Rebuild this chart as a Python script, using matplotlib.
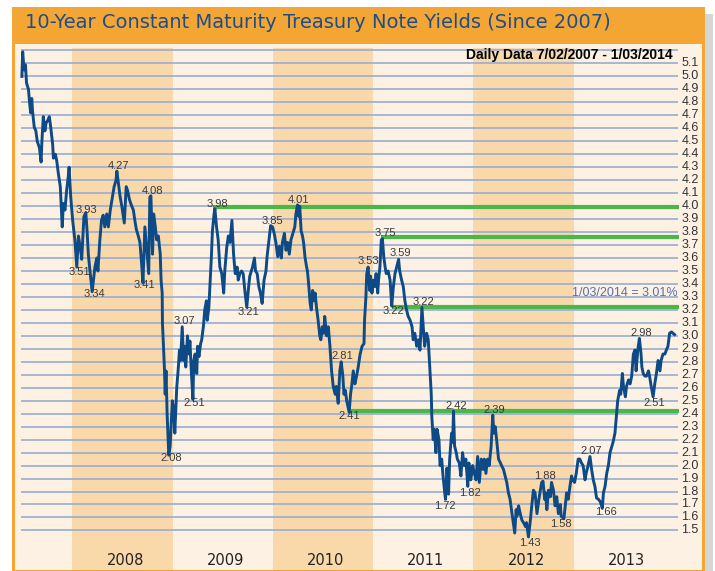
import matplotlib
matplotlib.use('Agg')
import matplotlib.pyplot as plt
from matplotlib.patches import Rectangle
import pandas as pd

# ---- data (10y CMT yield, %) ----
d2007 = ['2007-07-02', '2007-07-05', '2007-07-10', '2007-07-15', '2007-07-19', '2007-07-26',
         '2007-07-30', '2007-08-03', '2007-08-07', '2007-08-10', '2007-08-16', '2007-08-22',
         '2007-08-27', '2007-09-04', '2007-09-10', '2007-09-13', '2007-09-18', '2007-09-24',
         '2007-09-28', '2007-10-04', '2007-10-10', '2007-10-15', '2007-10-22', '2007-10-25',
         '2007-11-01', '2007-11-06', '2007-11-12', '2007-11-19', '2007-11-26', '2007-11-30',
         '2007-12-06', '2007-12-12', '2007-12-18', '2007-12-21', '2007-12-27']
y2007 = [5.00, 5.19, 5.05, 5.09, 4.95, 4.90, 4.80, 4.72, 4.83, 4.73, 4.61, 4.58,
         4.50, 4.45, 4.34, 4.50, 4.69, 4.58, 4.64, 4.66, 4.69, 4.61, 4.48, 4.37,
         4.40, 4.35, 4.25, 4.15, 3.84, 4.02, 3.97, 4.12, 4.23, 4.30, 4.07]

d2008 = ['2008-01-03', '2008-01-11', '2008-01-18', '2008-01-24', '2008-01-30', '2008-02-05',
         '2008-02-13', '2008-02-20', '2008-02-25', '2008-02-29', '2008-03-06', '2008-03-14',
         '2008-03-24', '2008-03-31', '2008-04-04', '2008-04-11', '2008-04-17', '2008-04-23',
         '2008-04-29', '2008-05-06', '2008-05-12', '2008-05-19', '2008-05-27', '2008-06-02',
         '2008-06-09', '2008-06-12', '2008-06-18', '2008-06-24', '2008-06-30', '2008-07-09',
         '2008-07-16', '2008-07-21', '2008-07-28', '2008-08-05', '2008-08-11', '2008-08-18',
         '2008-08-22', '2008-08-29', '2008-09-04', '2008-09-10', '2008-09-15', '2008-09-22',
         '2008-09-29', '2008-10-06', '2008-10-10', '2008-10-14', '2008-10-20', '2008-10-24',
         '2008-10-30', '2008-11-04', '2008-11-10', '2008-11-17', '2008-11-20', '2008-11-24',
         '2008-11-25', '2008-11-28', '2008-12-02', '2008-12-05', '2008-12-08', '2008-12-12',
         '2008-12-16', '2008-12-18', '2008-12-23', '2008-12-31']
y2008 = [3.89, 3.74, 3.53, 3.77, 3.69, 3.59, 3.92, 3.95, 3.79, 3.63, 3.50, 3.34,
         3.53, 3.60, 3.50, 3.74, 3.89, 3.93, 3.84, 3.94, 3.84, 3.97, 4.07, 4.15,
         4.20, 4.27, 4.17, 4.07, 4.00, 3.87, 4.15, 4.12, 4.05, 4.00, 3.97, 3.87,
         3.82, 3.77, 3.72, 3.56, 3.41, 3.84, 3.66, 3.48, 4.07, 4.08, 3.63, 3.94,
         3.84, 3.74, 3.77, 3.63, 3.43, 3.33, 3.10, 2.95, 2.76, 2.55, 2.73, 2.40,
         2.20, 2.08, 2.15, 2.50]

d2009 = ['2009-01-05', '2009-01-09', '2009-01-16', '2009-01-22', '2009-01-26', '2009-01-30',
         '2009-02-05', '2009-02-10', '2009-02-13', '2009-02-18', '2009-02-24', '2009-03-02',
         '2009-03-05', '2009-03-10', '2009-03-16', '2009-03-19', '2009-03-24', '2009-03-30',
         '2009-04-02', '2009-04-07', '2009-04-13', '2009-04-17', '2009-04-23', '2009-04-28',
         '2009-05-04', '2009-05-07', '2009-05-13', '2009-05-18', '2009-05-22', '2009-05-26',
         '2009-06-01', '2009-06-04', '2009-06-10', '2009-06-16', '2009-06-22', '2009-06-29',
         '2009-07-06', '2009-07-10', '2009-07-17', '2009-07-23', '2009-07-29', '2009-08-05',
         '2009-08-11', '2009-08-17', '2009-08-24', '2009-08-28', '2009-09-03', '2009-09-09',
         '2009-09-15', '2009-09-21', '2009-09-28', '2009-10-05', '2009-10-09', '2009-10-19',
         '2009-10-26', '2009-10-30', '2009-11-05', '2009-11-11', '2009-11-17', '2009-11-23',
         '2009-11-30', '2009-12-07', '2009-12-11', '2009-12-18', '2009-12-24', '2009-12-31']
y2009 = [2.43, 2.25, 2.60, 2.76, 2.89, 2.81, 3.07, 2.81, 2.92, 2.76, 3.00, 2.86,
         2.96, 2.73, 2.51, 2.81, 2.86, 2.71, 2.92, 2.84, 2.94, 2.97, 3.07, 3.20,
         3.27, 3.12, 3.22, 3.43, 3.60, 3.81, 3.94, 3.98, 3.84, 3.74, 3.53, 3.48,
         3.33, 3.50, 3.68, 3.77, 3.72, 3.89, 3.63, 3.48, 3.53, 3.43, 3.48, 3.50,
         3.48, 3.35, 3.22, 3.38, 3.46, 3.53, 3.60, 3.50, 3.48, 3.38, 3.33, 3.25,
         3.43, 3.50, 3.61, 3.74, 3.85, 3.84]

d2010 = ['2010-01-06', '2010-01-12', '2010-01-19', '2010-01-25', '2010-02-01', '2010-02-05',
         '2010-02-12', '2010-02-18', '2010-02-24', '2010-03-02', '2010-03-08', '2010-03-15',
         '2010-03-22', '2010-03-26', '2010-04-01', '2010-04-06', '2010-04-09', '2010-04-14',
         '2010-04-19', '2010-04-23', '2010-04-28', '2010-05-04', '2010-05-07', '2010-05-11',
         '2010-05-17', '2010-05-21', '2010-05-26', '2010-06-01', '2010-06-04', '2010-06-09',
         '2010-06-15', '2010-06-21', '2010-06-25', '2010-06-30', '2010-07-06', '2010-07-09',
         '2010-07-16', '2010-07-22', '2010-07-28', '2010-08-03', '2010-08-09', '2010-08-16',
         '2010-08-20', '2010-08-27', '2010-09-02', '2010-09-07', '2010-09-13', '2010-09-17',
         '2010-09-22', '2010-09-27', '2010-10-06', '2010-10-11', '2010-10-15', '2010-10-21',
         '2010-10-27', '2010-11-02', '2010-11-08', '2010-11-15', '2010-11-22', '2010-11-29',
         '2010-12-01', '2010-12-06', '2010-12-09', '2010-12-14', '2010-12-20', '2010-12-23',
         '2010-12-28']
y2010 = [3.79, 3.72, 3.61, 3.69, 3.60, 3.72, 3.79, 3.66, 3.72, 3.63, 3.74, 3.79,
         3.84, 3.94, 4.01, 3.92, 4.00, 3.81, 3.77, 3.72, 3.61, 3.53, 3.50, 3.41,
         3.25, 3.20, 3.35, 3.27, 3.33, 3.22, 3.12, 3.00, 2.97, 3.07, 3.02, 3.15,
         3.00, 3.07, 2.92, 2.73, 2.61, 2.55, 2.61, 2.48, 2.73, 2.80, 2.69, 2.55,
         2.58, 2.50, 2.41, 2.55, 2.61, 2.73, 2.63, 2.69, 2.76, 2.86, 2.92, 2.94,
         3.12, 3.30, 3.48, 3.53, 3.35, 3.46, 3.33]

d2011 = ['2011-01-03', '2011-01-07', '2011-01-12', '2011-01-18', '2011-01-21', '2011-01-26',
         '2011-01-31', '2011-02-04', '2011-02-09', '2011-02-14', '2011-02-18', '2011-02-25',
         '2011-03-04', '2011-03-10', '2011-03-16', '2011-03-22', '2011-03-28', '2011-04-04',
         '2011-04-08', '2011-04-15', '2011-04-21', '2011-04-27', '2011-05-03', '2011-05-09',
         '2011-05-16', '2011-05-23', '2011-05-27', '2011-06-02', '2011-06-09', '2011-06-15',
         '2011-06-21', '2011-06-28', '2011-07-05', '2011-07-08', '2011-07-15', '2011-07-21',
         '2011-07-25', '2011-08-01', '2011-08-03', '2011-08-08', '2011-08-12', '2011-08-18',
         '2011-08-22', '2011-08-29', '2011-09-02', '2011-09-08', '2011-09-12', '2011-09-19',
         '2011-09-22', '2011-09-27', '2011-09-30', '2011-10-03', '2011-10-07', '2011-10-12',
         '2011-10-14', '2011-10-18', '2011-10-21', '2011-10-25', '2011-10-31', '2011-11-04',
         '2011-11-11', '2011-11-17', '2011-11-23', '2011-11-29', '2011-12-05', '2011-12-12',
         '2011-12-16', '2011-12-23', '2011-12-30']
y2011 = [3.43, 3.38, 3.48, 3.33, 3.43, 3.53, 3.74, 3.75, 3.61, 3.53, 3.48, 3.50,
         3.43, 3.23, 3.38, 3.48, 3.53, 3.59, 3.50, 3.43, 3.38, 3.27, 3.20, 3.15,
         3.12, 3.07, 2.97, 3.02, 2.92, 2.97, 2.89, 3.22, 3.00, 2.92, 3.02, 2.97,
         2.82, 2.55, 2.38, 2.20, 2.28, 2.10, 2.28, 2.20, 2.00, 2.05, 1.94, 1.79,
         1.74, 1.98, 1.90, 1.78, 2.05, 2.20, 2.25, 2.18, 2.42, 2.15, 2.10, 2.05,
         2.02, 1.92, 2.10, 2.00, 2.05, 1.84, 2.02, 1.89, 2.00]

d2012 = ['2012-01-05', '2012-01-11', '2012-01-17', '2012-01-23', '2012-01-30', '2012-02-06',
         '2012-02-10', '2012-02-16', '2012-02-22', '2012-02-28', '2012-03-06', '2012-03-12',
         '2012-03-16', '2012-03-21', '2012-03-26', '2012-04-02', '2012-04-09', '2012-04-13',
         '2012-04-20', '2012-04-26', '2012-05-02', '2012-05-08', '2012-05-14', '2012-05-21',
         '2012-05-31', '2012-06-05', '2012-06-08', '2012-06-14', '2012-06-20', '2012-06-26',
         '2012-07-02', '2012-07-09', '2012-07-13', '2012-07-20', '2012-07-26', '2012-08-01',
         '2012-08-07', '2012-08-13', '2012-08-20', '2012-08-27', '2012-08-31', '2012-09-06',
         '2012-09-11', '2012-09-17', '2012-09-20', '2012-09-25', '2012-10-01', '2012-10-08',
         '2012-10-12', '2012-10-19', '2012-10-25', '2012-10-31', '2012-11-06', '2012-11-13',
         '2012-11-16', '2012-11-26', '2012-12-06', '2012-12-12', '2012-12-18', '2012-12-24',
         '2012-12-28']
y2012 = [1.94, 1.89, 2.07, 1.87, 2.05, 1.97, 2.05, 1.94, 2.05, 2.00, 2.15, 2.39,
         2.25, 2.30, 2.20, 2.05, 2.02, 2.00, 1.97, 1.92, 1.87, 1.79, 1.74, 1.63,
         1.48, 1.66, 1.61, 1.69, 1.63, 1.58, 1.56, 1.53, 1.56, 1.45, 1.56, 1.69,
         1.81, 1.79, 1.63, 1.74, 1.79, 1.87, 1.88, 1.74, 1.79, 1.66, 1.81, 1.76,
         1.87, 1.81, 1.69, 1.76, 1.63, 1.70, 1.61, 1.59, 1.79, 1.74, 1.84, 1.92,
         1.89]

d2013 = ['2013-01-04', '2013-01-10', '2013-01-17', '2013-01-23', '2013-01-29', '2013-02-04',
         '2013-02-11', '2013-02-15', '2013-02-22', '2013-03-01', '2013-03-07', '2013-03-13',
         '2013-03-19', '2013-03-25', '2013-04-01', '2013-04-08', '2013-04-15', '2013-04-19',
         '2013-04-25', '2013-05-01', '2013-05-07', '2013-05-13', '2013-05-20', '2013-05-24',
         '2013-05-31', '2013-06-06', '2013-06-10', '2013-06-17', '2013-06-21', '2013-06-27',
         '2013-07-01', '2013-07-08', '2013-07-12', '2013-07-19', '2013-07-25', '2013-07-31',
         '2013-08-06', '2013-08-12', '2013-08-16', '2013-08-22', '2013-08-28', '2013-09-03',
         '2013-09-06', '2013-09-11', '2013-09-17', '2013-09-23', '2013-09-30', '2013-10-04',
         '2013-10-10', '2013-10-17', '2013-10-23', '2013-10-29', '2013-11-04', '2013-11-11',
         '2013-11-15', '2013-11-22', '2013-11-29', '2013-12-04', '2013-12-10', '2013-12-16',
         '2013-12-23', '2014-01-03']
y2013 = [1.87, 1.94, 2.05, 2.05, 2.02, 2.00, 1.89, 1.94, 2.00, 2.07, 1.97, 1.89,
         1.84, 1.75, 1.74, 1.72, 1.67, 1.79, 1.84, 1.94, 2.00, 2.10, 2.15, 2.18,
         2.25, 2.40, 2.50, 2.58, 2.55, 2.71, 2.61, 2.53, 2.61, 2.66, 2.63, 2.69,
         2.86, 2.89, 2.73, 2.89, 2.98, 2.86, 2.76, 2.71, 2.69, 2.69, 2.73, 2.69,
         2.61, 2.53, 2.63, 2.71, 2.81, 2.73, 2.81, 2.86, 2.86, 2.89, 2.92, 3.02,
         3.03, 3.01]

dates = pd.to_datetime(d2007 + d2008 + d2009 + d2010 + d2011 + d2012 + d2013)
yields = y2007 + y2008 + y2009 + y2010 + y2011 + y2012 + y2013

band_years = [2008, 2010, 2012]
year_labels = [2008, 2009, 2010, 2011, 2012, 2013]
levels = [round(1.5 + 0.1 * i, 1) for i in range(38)]   # 1.5 .. 5.2
tick_levels = levels[:-1]

# support / resistance lines: (level, start date)
green_levels = [3.99, 3.76, 3.22, 2.42]
green_starts = ['2009-05-28', '2011-01-31', '2011-03-10', '2010-10-09']

# peak / trough labels: text, date, value where the label sits
ann_text = ['3.93', '4.27', '4.08', '3.98', '3.51', '3.34', '3.41', '3.07', '2.51', '2.08',
            '3.85', '4.01', '3.75', '3.59', '3.53', '3.21', '3.22', '2.81', '2.41',
            '3.22', '2.42', '2.39', '1.72', '1.82', '1.88', '1.43', '1.58', '2.07',
            '1.66', '2.98', '2.51']
ann_date = ['2008-02-21', '2008-06-17', '2008-10-18', '2009-06-12', '2008-01-26', '2008-03-21',
            '2008-09-19', '2009-02-12', '2009-03-20', '2008-12-26', '2009-12-30', '2010-04-04',
            '2011-02-14', '2011-04-11', '2010-12-15', '2009-10-04', '2011-03-17', '2010-09-11',
            '2010-10-07', '2011-07-05', '2011-10-30', '2012-03-18', '2011-09-19', '2011-12-21',
            '2012-09-18', '2012-07-24', '2012-11-15', '2013-03-07', '2013-04-30', '2013-09-02',
            '2013-10-20']
ann_val = [3.97, 4.31, 4.12, 4.02, 3.49, 3.32, 3.39, 3.115, 2.485, 2.056,
           3.886, 4.048, 3.79, 3.637, 3.577, 3.186, 3.194, 2.847, 2.385,
           3.259, 2.462, 2.428, 1.69, 1.791, 1.92, 1.405, 1.55, 2.112,
           1.64, 3.02, 2.48]

W, H = 715, 571
ORANGE = '#F4A634'
CREAM = '#FCF1E3'
BAND = '#F9D8AA'
GRID = '#9EB1D3'
LINE = '#0D4A86'
GREEN = '#4BB748'
NARROW = ['Liberation Sans Narrow', 'Liberation Sans', 'DejaVu Sans']


def fx(px):
    return px / W


def fy(py):
    return 1 - py / H


fig = plt.figure(figsize=(W / 100, H / 100), dpi=100)
fig.patch.set_facecolor('white')

# drop shadow and orange frame
fig.add_artist(Rectangle((fx(705), 0), 8 / W, (571 - 14) / H, transform=fig.transFigure,
                         color='#D6D6D6', lw=0, zorder=0))
fig.add_artist(Rectangle((fx(12), 0), (705 - 12) / W, (571 - 7) / H, transform=fig.transFigure,
                         color=ORANGE, lw=0, zorder=0))

ax = fig.add_axes([fx(15), fy(570), (702 - 15) / W, (570 - 44) / H])
ax.set_facecolor(CREAM)
for s in ax.spines.values():
    s.set_visible(False)
ax.set_xticks([])
ax.set_yticks([])
ax.set_xlim(pd.Timestamp('2007-06-07'), pd.Timestamp('2014-04-13'))
ax.set_ylim(1.195, 5.25)

for yr in band_years:
    ax.axvspan(pd.Timestamp(f'{yr}-01-01'), pd.Timestamp(f'{yr + 1}-01-01'),
               ymin=0, ymax=0.9924, color=BAND, lw=0, zorder=1)

ax.hlines(levels, pd.Timestamp('2007-06-29'), pd.Timestamp('2014-01-16'),
          color=GRID, lw=1.3, zorder=2)

for lv, st in zip(green_levels, green_starts):
    ax.hlines(lv, pd.Timestamp(st), pd.Timestamp('2014-01-19'), color=GREEN, lw=3.0, zorder=3)

ax.plot(dates, yields, color=LINE, lw=2.1, zorder=4)

for t, d, v in zip(ann_text, ann_date, ann_val):
    ax.text(pd.Timestamp(d), v, t, ha='center', va='center', fontsize=8,
            family=NARROW, color='#3A3A3A', zorder=5)

for v in tick_levels:
    ax.text(pd.Timestamp('2014-01-28'), v, f'{v:.1f}', ha='left', va='center',
            fontsize=9, family=NARROW, color='#333333', zorder=5)

for yr in year_labels:
    ax.text(pd.Timestamp(f'{yr}-07-12'), 1.27, str(yr), ha='center', va='center',
            fontsize=10.5, color='#222222', zorder=5)

ax.text(pd.Timestamp('2014-01-13'), 3.33, '1/03/2014 = 3.01%', ha='right', va='center',
        fontsize=9, family=NARROW, color='#5A6DB0', zorder=5)

fig.text(fx(673), fy(55.5), 'Daily Data 7/02/2007 - 1/03/2014', ha='right', va='center',
         fontsize=10, family=NARROW, weight='bold', color='black', zorder=6)

fig.text(fx(25), fy(23), '10-Year Constant Maturity Treasury Note Yields (Since 2007)',
         ha='left', va='center', fontsize=14, color='#1F4D8A', zorder=6)

fig.savefig('out.png', dpi=100, facecolor='white')
